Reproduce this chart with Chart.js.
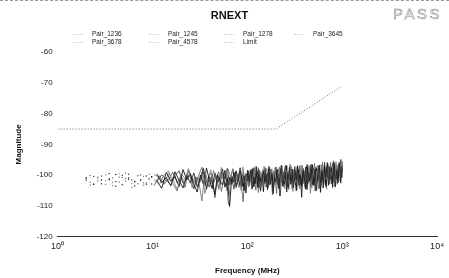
<!DOCTYPE html>
<html>
<head>
<meta charset="utf-8">
<script src="https://cdn.jsdelivr.net/npm/chart.js@4/dist/chart.umd.min.js"></script>
<style>
  body { margin: 0; background: #fff; }
  #wrap { position: relative; width: 449px; height: 278px; border-top: 1px dashed #999; box-sizing: border-box; }
  #pass {
    position: absolute; left: 393px; top: 4px;
    font: 15px "Liberation Sans", Arial, sans-serif; letter-spacing: 2.5px;
    color: transparent; -webkit-text-stroke: 0.5px #777;
  }
  #legend { position: absolute; left: 0; top: 0; font: 6.5px "Liberation Sans", Arial, sans-serif; color: #222; }
  .item { position: absolute; white-space: nowrap; }
  .mark { position: absolute; width: 10px; top: 4px; border-top: 1px dotted #ccc; }
</style>
</head>
<body>
<div id="wrap">
  <canvas id="chart" width="449" height="277"></canvas>
  <div id="pass">PASS</div>
  <div id="legend"></div>
</div>
<script>
// frequency points (MHz), two interleaved sweeps
const freqs = [
  2, 2.4, 2.9, 3.5, 4.1, 4.8, 5.6, 6.5, 7.5, 8.6, 9.8,
  11.1, 12.5, 14, 15.6, 17.3, 19.1, 21, 23,
  25.1, 27.3, 29.6, 32, 34.5, 37.1, 39.8, 42.6,
  45.5, 48.5, 51.6, 54.8, 58.1, 61.5, 65, 68.6,
  72.3, 76.1, 80, 84, 88.1, 92.3, 96.6, 101,
  105, 109, 113, 117, 121, 125, 129, 133, 138, 143,
  148, 153, 158, 163, 169, 175, 181, 187, 193, 200,
  207, 214, 221, 228, 236, 244, 252, 260, 269, 278,
  287, 297, 307, 317, 328, 339, 350, 362, 374, 386,
  399, 412, 426, 440, 455, 470, 486, 502, 519, 536,
  554, 572, 591, 611, 631, 652, 674, 696, 719, 743,
  768, 793, 820, 847, 875, 904, 934, 965, 1000
];
const freqsB = [
  2.2, 2.65, 3.2, 3.8, 4.45, 5.2, 6.05, 7, 8.05, 9.2, 10.4,
  11.8, 13.2, 14.8, 16.4, 18.2, 20, 22, 24,
  26.2, 28.4, 30.8, 33.2, 35.8, 38.4, 41.2, 44,
  47, 50, 53.2, 56.4, 59.8, 63.2, 66.8, 70.4,
  74.2, 78, 82, 86, 90.2, 94.4, 98.8, 103,
  107, 111, 115, 119, 123, 127, 131, 135.5, 140.5, 145.5,
  150.5, 155.5, 160.5, 166, 172, 178, 184, 190, 196.5, 203.5,
  210.5, 217.5, 224.5, 232, 240, 248, 256, 264.5, 273.5, 282.5,
  292, 302, 312, 322.5, 333.5, 344.5, 356, 368, 380, 392.5,
  405.5, 419, 433, 447.5, 462.5, 478, 494, 510.5, 527.5, 545,
  563, 581.5, 601, 621, 641.5, 663, 685, 707.5, 731, 755.5,
  780.5, 806.5, 833.5, 861, 889.5, 919, 949.5, 982, 995
];

const pair1236 = [
  -101.2, -100.4, -102.8, -101.5, -99.8, -103.1, -100.9, -102.2, -101.7, -100.3, -102.9,
  -99.6, -102.4, -100.8, -103.5, -98.9, -101.7, -104.2, -100.1,
  -102.6, -99.3, -103.8, -101.0, -97.8, -104.6, -100.5, -102.1,
  -106.3, -99.9, -101.8, -103.2, -98.4, -105.1, -100.7, -102.9,
  -99.1, -104.0, -101.4, -97.6, -103.7, -100.2, -105.8, -99.5,
  -101.9, -98.2, -104.4, -100.6, -102.7, -97.3, -103.9, -99.8, -105.2, -101.1,
  -98.7, -102.5, -100.0, -104.8, -97.9, -103.0, -99.4, -106.1, -100.9, -102.2,
  -98.1, -104.3, -100.4, -96.8, -103.6, -101.3, -99.0, -105.5, -100.8, -97.5,
  -102.9, -99.7, -104.1, -98.3, -101.6, -96.9, -103.4, -100.1, -107.2, -98.8,
  -102.0, -97.4, -104.7, -99.2, -101.9, -96.5, -103.1, -100.3, -98.0, -105.0,
  -99.6, -96.7, -102.4, -98.9, -104.2, -97.1, -100.7, -95.9, -103.3, -99.1,
  -97.6, -101.8, -95.8, -103.9, -98.4, -100.2, -96.3, -102.6, -97.0
];
const pair1245 = [
  -102.3, -101.0, -99.9, -103.4, -100.7, -101.9, -104.0, -100.2, -102.5, -99.7, -101.4,
  -103.1, -100.0, -98.7, -102.8, -105.2, -99.4, -101.3, -97.9,
  -104.1, -100.6, -102.2, -108.4, -99.0, -101.9, -103.6, -98.5,
  -100.9, -104.7, -97.5, -102.0, -100.3, -109.6, -101.2, -98.1,
  -103.3, -100.8, -99.2, -104.9, -98.8, -102.7, -100.1, -103.9,
  -99.3, -104.6, -100.5, -97.7, -102.8, -101.0, -105.7, -98.6, -100.9, -103.5,
  -97.2, -101.6, -99.9, -104.0, -102.3, -98.0, -106.4, -100.2, -97.8, -103.2,
  -101.5, -99.1, -104.9, -97.0, -102.1, -100.4, -98.5, -103.7, -101.2, -96.4,
  -100.0, -105.3, -98.9, -102.6, -97.3, -101.1, -104.5, -99.7, -96.9, -102.8,
  -100.6, -98.2, -103.0, -97.7, -105.9, -99.4, -101.7, -96.1, -102.2, -98.6,
  -104.4, -97.9, -100.8, -95.7, -103.1, -99.0, -101.5, -96.6, -102.9, -98.1,
  -100.4, -95.3, -103.6, -97.4, -99.8, -96.0, -101.9, -97.2, -95.5
];
const pair1278 = [
  -100.8, -103.0, -101.6, -99.5, -102.1, -100.0, -101.3, -103.5, -99.9, -102.6, -100.5,
  -101.8, -104.3, -99.1, -102.0, -100.4, -103.7, -98.2, -101.5,
  -99.7, -102.9, -105.5, -100.0, -103.1, -97.7, -101.6, -104.4,
  -99.3, -102.5, -100.8, -98.0, -103.9, -101.1, -110.2, -100.4,
  -102.3, -98.6, -101.0, -103.4, -99.8, -105.0, -101.7, -98.4,
  -102.5, -100.1, -97.9, -103.8, -101.3, -99.0, -104.2, -98.4, -102.0, -100.6,
  -105.4, -97.6, -101.8, -99.5, -103.3, -100.0, -98.1, -104.7, -101.0, -97.4,
  -102.7, -99.8, -106.8, -100.3, -98.6, -103.0, -101.4, -96.9, -104.0, -99.2,
  -101.7, -98.0, -102.9, -100.5, -105.1, -97.5, -101.2, -99.6, -103.6, -98.3,
  -100.9, -104.6, -97.1, -102.4, -99.3, -101.0, -96.6, -103.4, -100.0, -97.8,
  -102.1, -99.7, -105.6, -98.2, -101.3, -96.8, -103.8, -99.5, -97.3, -101.6,
  -98.8, -104.0, -96.4, -100.9, -97.7, -102.5, -95.9, -99.6, -97.9
];
const pair3645 = [
  -103.2, -100.6, -101.8, -102.4, -99.6, -101.1, -102.7, -100.1, -103.3, -101.0, -99.8,
  -100.7, -102.9, -99.5, -101.2, -104.8, -100.3, -102.4, -98.8,
  -101.9, -100.5, -103.0, -99.2, -106.0, -101.4, -98.3, -102.7,
  -100.2, -104.3, -99.6, -101.7, -103.5, -98.1, -100.9, -102.2,
  -99.0, -101.6, -104.1, -100.0, -97.3, -102.8, -100.6, -101.9,
  -98.5, -103.1, -100.7, -102.2, -97.0, -101.5, -99.4, -104.3, -100.2, -98.0,
  -102.9, -100.5, -97.8, -103.7, -101.2, -99.1, -105.0, -98.7, -101.8, -100.0,
  -103.5, -97.3, -100.8, -102.5, -99.0, -104.5, -98.4, -101.1, -99.9, -103.2,
  -97.1, -102.0, -100.3, -98.2, -104.8, -99.5, -101.4, -96.7, -102.6, -100.1,
  -98.5, -103.9, -99.2, -101.6, -97.4, -104.2, -100.4, -98.1, -102.7, -96.9,
  -101.3, -99.0, -103.5, -97.5, -100.6, -98.3, -104.6, -96.2, -101.0, -99.4,
  -97.0, -102.3, -98.6, -95.6, -101.5, -97.8, -100.1, -95.4, -98.9
];
const pair3678 = [
  -101.7, -102.9, -100.3, -101.2, -103.6, -100.8, -99.7, -102.0, -101.5, -103.1, -100.6,
  -102.2, -99.9, -101.5, -103.3, -100.1, -98.6, -102.6, -101.0,
  -99.4, -104.5, -100.7, -102.1, -98.9, -101.8, -103.9, -99.6,
  -107.3, -100.5, -102.8, -99.1, -101.3, -97.8, -103.2, -100.9,
  -104.6, -99.8, -102.0, -98.7, -101.1, -103.8, -99.5, -100.8,
  -103.4, -99.6, -101.1, -97.5, -102.6, -100.0, -98.9, -104.1, -101.6, -99.2,
  -102.0, -98.2, -103.9, -100.6, -97.1, -101.9, -99.7, -105.3, -100.3, -98.5,
  -101.0, -103.3, -97.8, -100.7, -102.4, -99.3, -96.8, -103.6, -100.4, -101.8,
  -98.6, -104.4, -99.8, -97.2, -102.3, -100.9, -98.1, -103.0, -101.2, -97.7,
  -99.9, -102.6, -96.5, -101.4, -98.8, -103.7, -100.2, -97.6, -105.2, -99.3,
  -100.8, -96.9, -102.0, -98.4, -101.5, -95.8, -103.2, -99.0, -100.6, -97.1,
  -102.8, -96.1, -99.7, -98.0, -101.3, -96.7, -100.4, -94.9, -98.2
];
const pair4578 = [
  -100.1, -101.9, -103.0, -100.9, -102.2, -99.4, -101.6, -102.8, -100.4, -101.3, -103.4,
  -100.2, -103.0, -101.4, -99.0, -102.5, -100.6, -104.0, -98.5,
  -101.3, -102.8, -100.0, -97.4, -103.5, -101.1, -99.3, -102.4,
  -100.7, -98.9, -105.3, -101.8, -99.6, -102.9, -100.3, -97.9,
  -101.5, -103.1, -99.9, -102.2, -108.7, -100.1, -101.9, -98.7,
  -100.9, -102.7, -98.8, -101.4, -104.9, -99.5, -97.6, -102.3, -100.1, -103.4,
  -98.3, -101.7, -99.6, -104.1, -97.4, -100.8, -102.9, -98.7, -101.2, -106.0,
  -99.0, -97.7, -102.5, -100.2, -103.8, -98.6, -101.0, -99.3, -104.7, -97.2,
  -100.5, -102.1, -98.1, -103.3, -99.8, -101.3, -97.0, -102.7, -100.0, -98.9,
  -104.0, -99.4, -101.7, -96.8, -103.1, -98.2, -100.5, -102.6, -97.3, -101.0,
  -99.1, -104.3, -96.6, -100.9, -98.5, -102.2, -97.2, -101.4, -99.3, -95.9,
  -102.6, -98.7, -100.0, -96.3, -103.0, -97.5, -99.5, -96.0, -100.8
];

// limit line
const limitFreqs = [1, 200, 1000];
const limitValues = [-85, -85, -71];

const pairNames = ["Pair_1236", "Pair_1245", "Pair_1278", "Pair_3645", "Pair_3678", "Pair_4578"];
const pairValues = [pair1236, pair1245, pair1278, pair3645, pair3678, pair4578];
const pairFreqs = [freqs, freqsB, freqs, freqsB, freqs, freqsB];
const pairColors = ["#222", "#777", "#111", "#888", "#444", "#666"];

const decadeTicks = [1, 10, 100, 1000, 10000];
const decadeLabels = ["10\u2070", "10\u00b9", "10\u00b2", "10\u00b3", "10\u2074"];

const font = "'Liberation Sans', Arial, sans-serif";

const datasets = pairNames.map((name, k) => ({
  label: name,
  data: pairFreqs[k].map((f, i) => ({ x: f, y: pairValues[k][i] })),
  borderColor: pairColors[k],
  backgroundColor: pairColors[k],
  borderWidth: 0.9,
  pointRadius: (ctx) => (ctx.raw && ctx.raw.x < 10 ? 0.7 : 0),
  pointBorderWidth: 0,
  segment: {
    borderColor: (ctx) => (ctx.p0.parsed.x < 10 ? "transparent" : pairColors[k])
  }
}));

datasets.push({
  label: "Limit",
  data: limitFreqs.map((f, i) => ({ x: f, y: limitValues[i] })),
  borderColor: "#666",
  borderWidth: 1,
  borderDash: [1, 2],
  pointRadius: 0
});

const chart = new Chart(document.getElementById("chart"), {
  type: "line",
  data: { datasets: datasets },
  options: {
    responsive: false,
    animation: false,
    layout: { padding: { left: 14, right: 4, top: 0, bottom: 2 } },
    plugins: {
      legend: { display: false },
      tooltip: { enabled: false },
      title: {
        display: true,
        text: "RNEXT",
        color: "#111",
        font: { family: font, size: 11, weight: "bold" },
        padding: { top: 8, bottom: 30 }
      }
    },
    scales: {
      x: {
        type: "logarithmic",
        min: 1,
        max: 10000,
        afterBuildTicks: (axis) => {
          axis.ticks = decadeTicks.map((v) => ({ value: v }));
        },
        ticks: {
          color: "#222",
          font: { family: font, size: 9 },
          padding: 5,
          maxRotation: 0,
          callback: (v, i) => decadeLabels[i]
        },
        grid: { display: false, drawTicks: false },
        border: { display: true, color: "#333", width: 1, dash: [6, 2] },
        title: {
          display: true,
          text: "Frequency (MHz)",
          color: "#111",
          font: { family: font, size: 8, weight: "bold" },
          padding: { top: 9, bottom: 0 }
        }
      },
      y: {
        min: -120,
        max: -60,
        ticks: {
          stepSize: 10,
          color: "#222",
          font: { family: font, size: 8 },
          padding: 5
        },
        grid: { display: false, drawTicks: false },
        border: { display: false },
        title: {
          display: true,
          text: "Magnitude",
          color: "#111",
          font: { family: font, size: 8, weight: "bold" },
          padding: { top: 0, bottom: 8 }
        }
      }
    }
  }
});

// html legend, 4 columns
const legendEl = document.getElementById("legend");
const colX = [92, 168, 243, 313];
const rowY = [29, 37];
chart.data.datasets.forEach((ds, i) => {
  const col = i % 4;
  const row = Math.floor(i / 4);
  const item = document.createElement("div");
  item.className = "item";
  item.style.left = colX[col] + "px";
  item.style.top = rowY[row] + "px";
  item.textContent = ds.label;
  const mark = document.createElement("div");
  mark.className = "mark";
  mark.style.left = "-19px";
  item.appendChild(mark);
  legendEl.appendChild(item);
});
</script>
</body>
</html>
